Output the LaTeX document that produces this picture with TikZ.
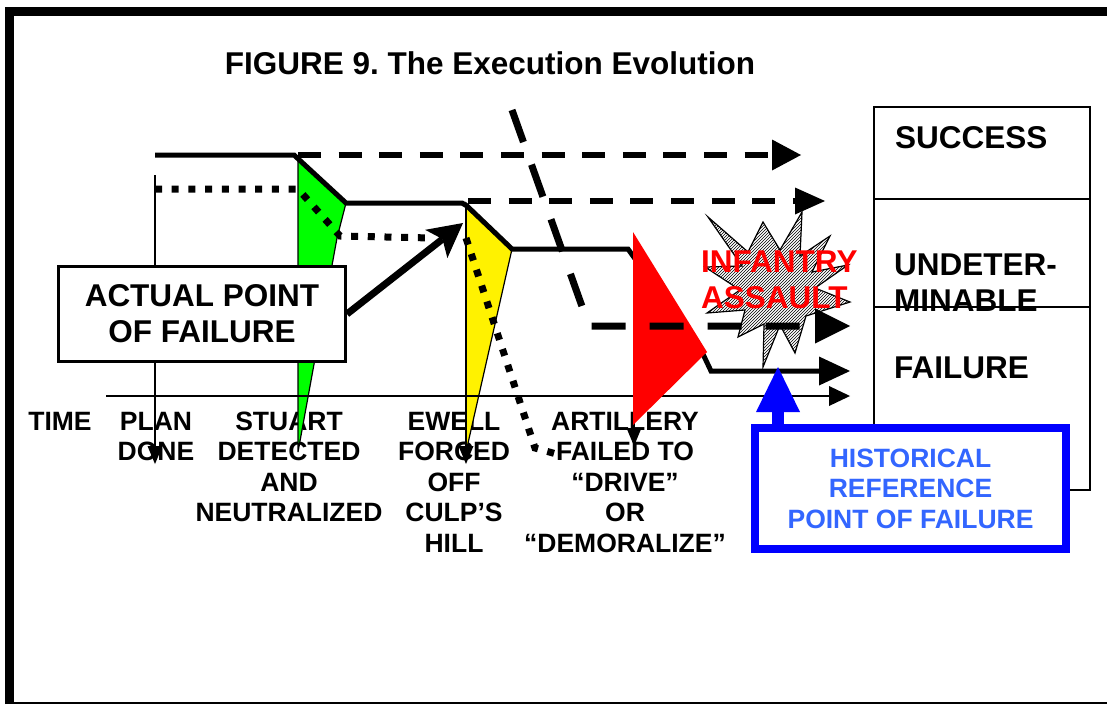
\documentclass[tikz,border=0pt]{standalone}
\usepackage{fontspec}
\setmainfont{Liberation Sans}
\usetikzlibrary{arrows.meta,patterns}

\definecolor{histblue}{RGB}{51,102,255}

\begin{document}
\frenchspacing
\begin{tikzpicture}[x=1pt, y=-1pt,
  big/.style={font=\fontsize{31.5}{36}\selectfont\bfseries, inner sep=0pt},
  lbl/.style={font=\fontsize{26.5}{30.5}\selectfont\bfseries, inner sep=0pt,
    align=center, anchor=base},
  cell/.style={draw, line width=1.5pt, minimum width=216pt, inner sep=0pt},
  actualline/.style={line width=5pt},
  planline/.style={line width=6pt, dash pattern=on 23pt off 17.6pt},
  shiftline/.style={line width=7pt, dash pattern=on 34pt off 24pt},
  dotline/.style={line width=7pt, dash pattern=on 7pt off 9.7pt},
  tick/.style={line width=1.8pt, -{Triangle[length=18pt,width=15pt,line width=0pt]}}
]
\useasboundingbox (0,0) rectangle (1107,704);
% frame and title
\draw[line width=9pt] (9.5,704) -- (9.5,11.5) -- (1107,11.5);
\draw[line width=1.5pt] (9.5,703) -- (1107,703);
\node[big, anchor=base] (title) at (490,74) {FIGURE 9. The Execution Evolution};

% outcome column (multi-line nodes sit on their last baseline)
\node[cell, minimum height=92pt] (succbox) at (982,153) {};
\node[cell, minimum height=108pt] (undetbox) at (982,253) {};
\node[cell, minimum height=183pt] (failbox) at (982,398.5) {};
\node[big, anchor=base west] (succ) at (895,148) {SUCCESS};
\node[big, anchor=base west, align=left] (undet) at (894,311) {UNDETER-\\MINABLE};
\node[big, anchor=base west] (fail) at (894,378) {FAILURE};

% time line labels
\node[lbl] (time) at (60,430) {TIME};
\node[lbl] (plan) at (156,460.5) {PLAN\\DONE};
\node[lbl] (stuart) at (289,521.5) {STUART\\DETECTED\\AND\\NEUTRALIZED};
\node[lbl] (ewell) at (454,552) {EWELL\\FORCED\\OFF\\CULP’S\\HILL};
\node[lbl] (artil) at (625,552) {ARTILLERY\\FAILED TO\\“DRIVE”\\OR\\“DEMORALIZE”};

% decision wedges
\filldraw[fill=green, line width=1.2pt] (298,157) -- (346,203) -- (337,238) -- (298,452) -- cycle;
\filldraw[fill=yellow, line width=1.2pt] (466,203) -- (512,249) -- (466,452) -- cycle;
\draw[tick] (155,175) -- (155,464);
\draw[tick] (466,203) -- (466,464);
\draw[tick] (634,420) -- (634,446);
\draw[line width=2pt, -{Triangle[length=21pt,width=20pt,line width=0pt]}] (106,396) -- (850,396);

% actual course
\draw[actualline, -{Triangle[length=31pt,width=29pt,line width=0pt]}]
  (155,155) -- (294,155) -- (346,203) -- (462,203) -- (467,206) -- (512,249)
  -- (628,249) -- (702,352) -- (711,371) -- (850,371);
\fill[red] (633,232) -- (707,352) -- (633,425) -- cycle;

% infantry assault burst
\draw[line width=1.2pt, fill=white, postaction={pattern=north east lines}]
  (708,217) -- (748,252) -- (763,222) -- (780,250) -- (802,212) -- (800,256)
  -- (830,236) -- (812,272) -- (848,265) -- (815,288) -- (850,302) -- (806,316)
  -- (795,353) -- (780,325) -- (763,367) -- (764,324) -- (738,337) -- (745,310)
  -- (707,313) -- (740,290) -- (705,267) -- (742,266) -- cycle;

% alternative courses
\draw[dotline] (155,189) -- (298,189) -- (340,236) -- (432,238);
\draw[dotline] (466,238) -- (535,448) -- (560,455);
\draw[planline, -{Triangle[length=29pt,width=31pt,line width=0pt]}] (298,155) -- (801,155);
\draw[planline, -{Triangle[length=30pt,width=27pt,line width=0pt]}] (468,201) -- (825,201);
\draw[shiftline, -{Triangle[length=35pt,width=35pt,line width=0pt]}] (512,110) -- (589,326) -- (850,326);

\node[big, red, anchor=base west, align=left] (assault) at (701,308) {INFANTRY\\ASSAULT};

% failure points
\node[big, draw, line width=3pt, fill=white, minimum width=287pt, minimum height=95pt,
  align=center] (actual) at (202,314) {ACTUAL POINT\\OF FAILURE};
\coordinate (hit) at (463,223);
\draw[line width=7pt, -{Stealth[length=34pt,width=36pt,inset=8pt,line width=0pt]}] (actual.east) -- (hit);

\node[lbl, draw=blue, fill=white, line width=8pt, text=histblue, minimum width=311pt,
  minimum height=121pt, anchor=center] (hist) at (910.5,488.5)
  {HISTORICAL\\REFERENCE\\POINT OF FAILURE};
\coordinate (histtip) at (778,367);
\draw[blue, line width=12pt, -{Triangle[length=45pt,width=44pt,line width=0pt]}] (hist.north -| histtip) -- (histtip);
\end{tikzpicture}
\end{document}
